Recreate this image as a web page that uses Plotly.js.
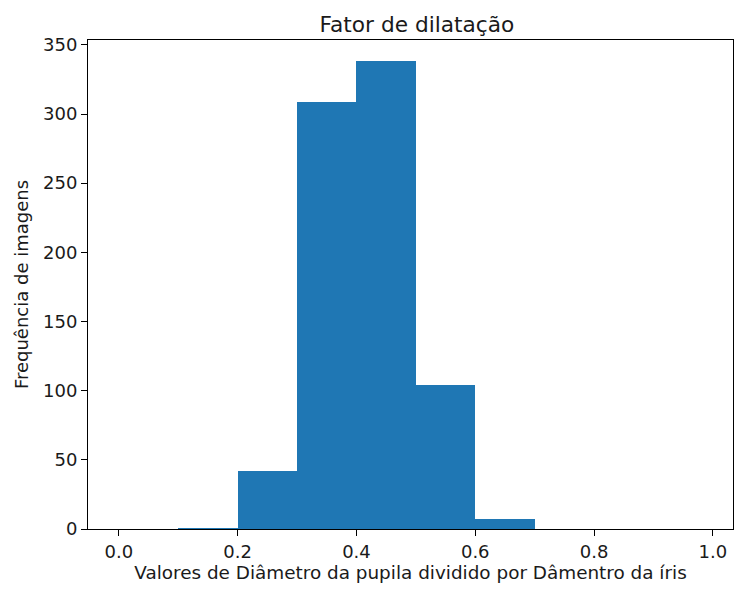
<!DOCTYPE html>
<html>
<head>
<meta charset="utf-8">
<script src="https://cdn.plot.ly/plotly-3.0.1.min.js"></script>
<style>html,body{margin:0;padding:0;background:#fff;}#chart{width:734px;height:589px;}</style>
</head>
<body>
<div id="chart"></div>
<script>
var binStarts = [0.0, 0.1, 0.2, 0.3, 0.4, 0.5, 0.6, 0.7, 0.8, 0.9];
var binWidth = 0.1;
var counts = [0, 1, 42, 309, 338, 104, 7, 0, 0, 0];
var xTicks = [0.0, 0.2, 0.4, 0.6, 0.8, 1.0];
var yTicks = [0, 50, 100, 150, 200, 250, 300, 350];

var trace = {
  type: 'bar',
  x: binStarts,
  y: counts,
  width: binStarts.map(function(){return binWidth;}),
  offset: 0,
  marker: {color: '#1f77b4', line: {width: 0}},
  hoverinfo: 'x+y'
};
var font = {family: 'DejaVu Sans, sans-serif', size: 18, color: '#1a1a1a'};
var layout = {
  width: 734, height: 589,
  margin: {l: 88, r: 1, t: 40, b: 60},
  paper_bgcolor: '#fff', plot_bgcolor: '#fff',
  font: font,
  showlegend: false,
  bargap: 0,
  title: {text: 'Fator de dilatação', font: {family: 'DejaVu Sans, sans-serif', size: 21.7, color: '#1a1a1a'}, x: 0.51, xref: 'paper', y: 1, yref: 'paper', yanchor: 'bottom', pad: {b: 8}},
  xaxis: {
    range: [-0.052, 1.034],
    tickvals: xTicks,
    ticktext: xTicks.map(function(v){return v.toFixed(1);}),
    ticks: 'outside', ticklen: 6, tickwidth: 1, tickcolor: '#000',
    showline: true, linecolor: '#000', linewidth: 1, mirror: true,
    showgrid: false, zeroline: false,
    tickfont: font,
    title: {text: 'Valores de Diâmetro da pupila dividido por Dâmentro da íris', font: {family: 'DejaVu Sans, sans-serif', size: 18.4, color: '#1a1a1a'}, standoff: 4}
  },
  yaxis: {
    range: [0, 353.5],
    tickvals: yTicks,
    ticks: 'outside', ticklen: 6, tickwidth: 1, tickcolor: '#000',
    showline: true, linecolor: '#000', linewidth: 1, mirror: true,
    showgrid: false, zeroline: false,
    tickfont: font,
    title: {text: 'Frequência de imagens', font: font, standoff: 9}
  }
};
Plotly.newPlot('chart', [trace], layout, {displayModeBar: false, staticPlot: true});
</script>
</body>
</html>
